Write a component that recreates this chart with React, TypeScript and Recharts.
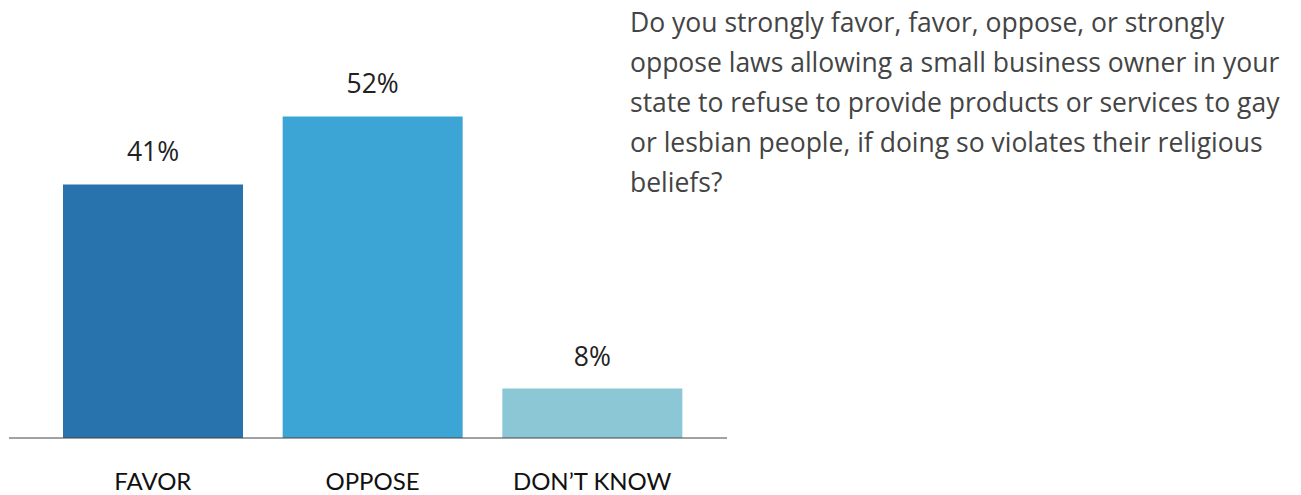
import { BarChart, Bar, XAxis, YAxis, Cell, LabelList } from "recharts";

const categories = ["FAVOR", "OPPOSE", "DON\u2019T KNOW"];
const values = [41, 52, 8];
const barColors = ["#2873ad", "#3da5d5", "#8cc7d5"];

const questionLines = [
  "Do you strongly favor, favor, oppose, or strongly",
  "oppose laws allowing a small business owner in your",
  "state to refuse to provide products or services to gay",
  "or lesbian people, if doing so violates their religious",
  "beliefs?",
];

const data = categories.map((name, i) => ({ name, value: values[i] }));

const App = () => {
  return (
    <div
      style={{
        position: "absolute",
        left: 0,
        top: 0,
        width: 1301,
        height: 495,
        background: "#fff",
        overflow: "hidden",
      }}
    >
      <div style={{ position: "absolute", left: 0, top: 0 }}>
        <BarChart
          width={730}
          height={495}
          data={data}
          margin={{ top: 67, right: 3, bottom: 0, left: 9 }}
        >
          <XAxis
            dataKey="name"
            height={57}
            padding={{ left: 34, right: 25 }}
            axisLine={{ stroke: "#444", strokeWidth: 1 }}
            tickLine={false}
            tickSize={0}
            tickMargin={35}
            tick={{ fill: "#111", fontSize: 24, fontFamily: "Lato" }}
          />
          <YAxis hide domain={[0, 60]} />
          <Bar dataKey="value" barSize={180} isAnimationActive={false}>
            {data.map((d, i) => (
              <Cell key={d.name} fill={barColors[i]} />
            ))}
            <LabelList
              dataKey="value"
              position="top"
              offset={23}
              formatter={(v: any) => `${v}%`}
              style={{ fill: "#222", fontSize: 26.5, fontFamily: "Open Sans" }}
            />
          </Bar>
        </BarChart>
      </div>
      <div
        style={{
          position: "absolute",
          left: 630,
          top: 2,
          fontFamily: "Open Sans",
          fontSize: 26.5,
          lineHeight: "40px",
          color: "#444",
          whiteSpace: "nowrap",
        }}
      >
        {questionLines.map((l) => (
          <div key={l}>{l}</div>
        ))}
      </div>
    </div>
  );
};

export default App;
